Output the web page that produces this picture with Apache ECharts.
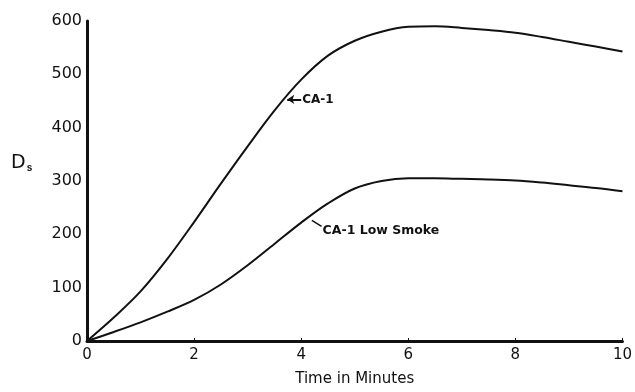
<!DOCTYPE html>
<html>
<head>
<meta charset="utf-8">
<script src="https://cdn.jsdelivr.net/npm/echarts@6/dist/echarts.min.js"></script>
<style>
  html, body { margin: 0; padding: 0; background: #fff; }
  #chart { width: 635px; height: 392px; }
</style>
</head>
<body>
<div id="chart"></div>
<script>
var time_min = [0, 0.5, 1, 1.5, 2, 2.5, 3, 3.5, 4, 4.5, 5, 5.5, 6, 6.5, 7, 7.5, 8, 8.5, 9, 9.5, 10];
var ca1 = [0, 44, 93, 154, 223, 295, 365, 432, 490, 535, 563, 580, 589, 590, 587, 583, 578, 570, 561, 552, 543];
var ca1_low = [0, 17, 35, 55, 77, 106, 142, 182, 222, 258, 286, 300, 305, 305, 304, 303, 301, 297, 292, 287, 281];
var x_ticks = [0, 2, 4, 6, 8, 10];
var y_ticks = [0, 100, 200, 300, 400, 500, 600];

function pairs(xs, ys) {
    var out = [];
    for (var i = 0; i < xs.length; i++) out.push([xs[i], ys[i]]);
    return out;
}

var myChart = echarts.init(document.getElementById('chart'));
var ink = '#111';
var font = '"DejaVu Sans", sans-serif';

var option = {
    animation: false,
    backgroundColor: '#fff',
    grid: { left: 87, right: 9, top: 21, bottom: 47 },
    xAxis: {
        type: 'value',
        min: 0, max: 10, interval: 2,
        name: 'Time in Minutes',
        nameLocation: 'middle',
        nameGap: 31,
        nameTextStyle: { color: ink, fontSize: 15, fontFamily: font },
        axisLine: { lineStyle: { color: ink, width: 3 } },
        axisTick: { inside: true, length: 3, lineStyle: { color: ink } },
        axisLabel: { color: ink, fontSize: 15, fontFamily: font, margin: 7,
            formatter: function (v) { return x_ticks.indexOf(v) >= 0 ? String(v) : ''; } },
        splitLine: { show: false }
    },
    yAxis: {
        type: 'value',
        min: 0, max: 600, interval: 100,
        axisLine: { show: true, lineStyle: { color: ink, width: 3 } },
        axisTick: { show: false },
        axisLabel: { color: ink, fontSize: 16, fontFamily: font, margin: 5,
            formatter: function (v) { return y_ticks.indexOf(v) >= 0 ? String(v) : ''; } },
        splitLine: { show: false }
    },
    series: [
        {
            name: 'CA-1',
            type: 'line',
            smooth: 0.35,
            symbol: 'none',
            lineStyle: { color: ink, width: 2 },
            data: pairs(time_min, ca1),
            markLine: {
                silent: true,
                symbol: ['none', 'arrow'],
                symbolSize: 7,
                label: { show: false },
                lineStyle: { color: ink, width: 2, type: 'solid' },
                data: [[{ coord: [4.0, 453] }, { coord: [3.74, 453] }]]
            }
        },
        {
            name: 'CA-1 Low Smoke',
            type: 'line',
            smooth: 0.35,
            symbol: 'none',
            lineStyle: { color: ink, width: 2 },
            data: pairs(time_min, ca1_low),
            markLine: {
                silent: true,
                symbol: ['none', 'none'],
                label: { show: false },
                lineStyle: { color: ink, width: 1.5, type: 'solid' },
                data: [[{ coord: [4.2, 226] }, { coord: [4.38, 215] }]]
            }
        }
    ]
};
myChart.setOption(option);

// text labels placed at data coordinates
var p1 = myChart.convertToPixel({ gridIndex: 0 }, [4.02, 452]);
var p2 = myChart.convertToPixel({ gridIndex: 0 }, [4.4, 206]);
myChart.setOption({
    graphic: [
        { type: 'text', left: 11, top: 154,
          style: { text: 'D{s|s}', fill: ink, font: '19px ' + font,
                   rich: { s: { fontSize: 10, fontWeight: 'bold', padding: [9, 0, 0, 1], fill: ink } } } },
        { type: 'text', x: p1[0], y: p1[1], style: { text: 'CA-1', fill: ink,
          font: 'bold 12px ' + font, verticalAlign: 'middle' } },
        { type: 'text', x: p2[0], y: p2[1], style: { text: 'CA-1 Low Smoke', fill: ink,
          font: 'bold 12.5px ' + font, verticalAlign: 'middle' } }
    ]
});
</script>
</body>
</html>
